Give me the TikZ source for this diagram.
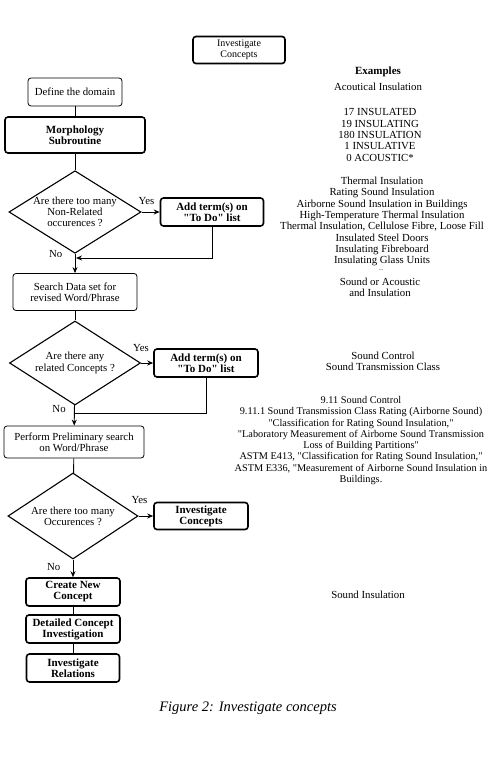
\documentclass[tikz,border=0pt]{standalone}
\usepackage{fontspec}
\setmainfont{Liberation Serif}[Ligatures=TeXReset]
\usetikzlibrary{shapes.geometric,arrows.meta}

\begin{document}
\begin{tikzpicture}[x=1pt, y=-1pt,
    every node/.style={font=\fontsize{10.8}{11.3}\selectfont, align=center},
    plainbox/.style={draw, line width=0.8pt, rounded corners=3pt, inner sep=1pt},
    boldbox/.style={draw, line width=1.6pt, rounded corners=3pt, inner sep=1pt, font=\fontsize{11}{11}\selectfont\bfseries},
    decision/.style={draw, diamond, aspect=1.6, line width=1.1pt, inner sep=0pt},
    flow/.style={line width=0.9pt},
    arr/.style={flow, -{Stealth[length=6pt,width=5pt]}}]
	\useasboundingbox (0,0) rectangle (494,767);

	% Top box
	\node[boldbox, font=\fontsize{10}{10.5}\selectfont, minimum width=92pt, minimum height=27pt] (top) at (239,50) {Investigate\\Concepts};

	% Main column
	\node[plainbox, minimum width=94pt, minimum height=28pt] (define) at (75,92) {Define the domain};
	\node[boldbox, minimum width=140pt, minimum height=36pt] (morph) at (75,135) {Morphology\\Subroutine};
	\node[decision, minimum width=132pt, minimum height=82pt] (d1) at (75,212) {Are there too many\\Non-Related\\occurences ?};
	\node[plainbox, minimum width=124pt, minimum height=37pt] (search) at (75,292) {Search Data set for\\revised Word/Phrase};
	\node[decision, minimum width=131pt, minimum height=84pt] (d2) at (75,363) {Are there any\\related Concepts ?};
	\node[plainbox, minimum width=140pt, minimum height=32pt] (perform) at (74,442) {Perform Preliminary search\\on Word/Phrase};
	\node[decision, minimum width=130pt, minimum height=86pt] (d3) at (73,516) {Are there too many\\Occurences ?};
	\node[boldbox, minimum width=94pt, minimum height=28pt] (create) at (73,592) {Create New\\Concept};
	\node[boldbox, minimum width=94pt, minimum height=28pt] (detail) at (73,629) {Detailed Concept\\Investigation};
	\node[boldbox, minimum width=93pt, minimum height=28pt] (rel) at (73,668) {Investigate\\Relations};

	% Side boxes
	\node[boldbox, minimum width=103pt, minimum height=28pt] (add1) at (212,212) {Add term(s) on\\"To Do" list};
	\node[boldbox, minimum width=104pt, minimum height=28pt] (add2) at (206,363) {Add term(s) on\\"To Do" list};
	\node[boldbox, minimum width=94pt, minimum height=27pt] (invc) at (201,516) {Investigate\\Concepts};
	\coordinate (j1) at (76,258);
	\coordinate (j2) at (75,413);

	% Connectors
	\draw[flow] (define) -- (morph);
	\draw[flow] (morph) -- (d1);
	\draw[arr] (d1) -- (add1) node[pos=0, anchor=south, xshift=5pt, yshift=4pt] {Yes};
	\draw[arr] (d1) -- (search) node[pos=0, left=9pt] {No};
	\draw[arr] (add1) |- (j1);
	\draw[flow] (search) -- (d2);
	\draw[arr] (d2) -- (add2) node[pos=0, anchor=south, xshift=0pt, yshift=8pt] {Yes};
	\draw[arr] (d2) -- (perform) node[pos=0, left=5pt, yshift=-4pt] {No};
	\draw[flow] (add2) |- (j2);
	\draw[flow] (perform) -- (d3);
	\draw[arr] (d3) -- (invc) node[pos=0, anchor=south, xshift=1pt, yshift=9pt] {Yes};
	\draw[arr] (d3) -- (create) node[pos=0.45, left=9pt] {No};
	\draw[flow] (create) -- (detail);
	\draw[flow] (detail) -- (rel);

	% Examples column
	\node[font=\fontsize{11}{11.3}\selectfont\bfseries] (exhead) at (378,72) {Examples};
	\node (ex1) at (378,87) {Acoutical Insulation};
	\node (ex2) at (380,135) {17 INSULATED\\19 INSULATING\\180 INSULATION\\1 INSULATIVE\\0 ACOUSTIC*};
	\node (ex3) at (382,221.5) {Thermal Insulation\\Rating Sound Insulation\\Airborne Sound Insulation in Buildings\\High-Temperature Thermal Insulation\\Thermal Insulation, Cellulose Fibre, Loose Fill\\Insulated Steel Doors\\Insulating Fibreboard\\Insulating Glass Units};
	\node[font=\fontsize{6}{6}\selectfont] (dots) at (381,270) {...};
	\node (ex4) at (380,287.5) {Sound or Acoustic\\and Insulation};
	\node (ex5) at (383,361) {Sound Control\\Sound Transmission Class};
	\node[font=\fontsize{10.3}{11.3}\selectfont] (ex6) at (361,440.5) {9.11 Sound Control\\9.11.1 Sound Transmission Class Rating (Airborne Sound)\\"Classification for Rating Sound Insulation,"\\"Laboratory Measurement of Airborne Sound Transmission\\Loss of Building Partitions"\\ASTM E413, "Classification for Rating Sound Insulation,"\\ASTM E336, "Measurement of Airborne Sound Insulation in\\Buildings.};
	\node (ex7) at (368,595) {Sound Insulation};

	% Caption
	\node[font=\fontsize{14.5}{16}\selectfont\itshape] (caption) at (248,708) {Figure 2: Investigate concepts};
\end{tikzpicture}
\end{document}
